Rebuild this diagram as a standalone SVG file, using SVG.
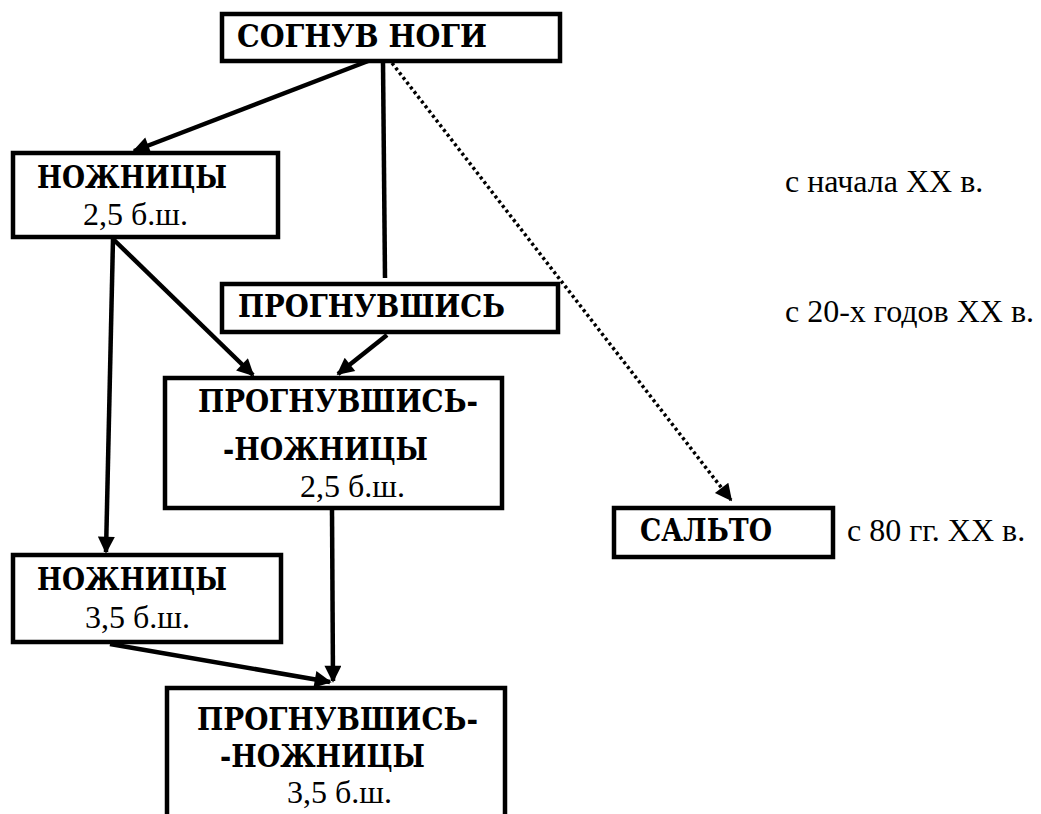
<svg xmlns="http://www.w3.org/2000/svg" width="1041" height="814" viewBox="0 0 1041 814">
<style>
.box{fill:#fff;stroke:#000;stroke-width:4.5}
.b{font-family:'DejaVu Serif','Liberation Serif',serif;font-weight:bold;font-size:31px;fill:#000}
.r{font-family:'Liberation Serif','Times New Roman',serif;font-size:32px;fill:#000}
.ln{stroke:#000;stroke-width:4.5;fill:none}
.dot{stroke:#000;stroke-width:3.5;fill:none;stroke-dasharray:3 3}
</style>
<defs>
<marker id="ah" viewBox="0 0 10 10" refX="9" refY="5" markerWidth="19" markerHeight="17" markerUnits="userSpaceOnUse" orient="auto">
<path d="M0,0 L10,5 L0,10 z" fill="#000"/>
</marker>
</defs>
<rect width="1041" height="814" fill="#fff"/>
<g id="connectors">
<line class="ln" x1="376" y1="58" x2="134" y2="151" marker-end="url(#ah)"/>
<line class="ln" x1="383" y1="62" x2="385" y2="278"/>
<line class="dot" x1="392" y1="63" x2="731" y2="500" marker-end="url(#ah)"/>
<line class="ln" x1="113" y1="239" x2="253" y2="375" marker-end="url(#ah)"/>
<line class="ln" x1="387" y1="335" x2="338" y2="374" marker-end="url(#ah)"/>
<line class="ln" x1="113" y1="239" x2="106" y2="552" marker-end="url(#ah)"/>
<line class="ln" x1="332" y1="510" x2="333" y2="681" marker-end="url(#ah)"/>
<line class="ln" x1="110" y1="644" x2="330" y2="682" marker-end="url(#ah)"/>
</g>
<g id="n-sognuv">
<rect class="box" x="222" y="14" width="338" height="47"/>
<text class="b" x="237" y="47" textLength="250" lengthAdjust="spacingAndGlyphs">СОГНУВ  НОГИ</text>
</g>
<g id="n-nozh1">
<rect class="box" x="13" y="153" width="265" height="84"/>
<text class="b" x="37" y="188" textLength="190" lengthAdjust="spacingAndGlyphs">НОЖНИЦЫ</text>
<text class="r" x="83" y="225">2,5 б.ш.</text>
</g>
<g id="n-progn">
<rect class="box" x="222" y="284" width="336" height="48"/>
<text class="b" x="238" y="317" textLength="267" lengthAdjust="spacingAndGlyphs">ПРОГНУВШИСЬ</text>
</g>
<g id="n-pn1">
<rect class="box" x="165" y="378" width="337" height="130"/>
<text class="b" x="198" y="412" textLength="280" lengthAdjust="spacingAndGlyphs">ПРОГНУВШИСЬ-</text>
<text class="b" x="223" y="460" textLength="205" lengthAdjust="spacingAndGlyphs">-НОЖНИЦЫ</text>
<text class="r" x="300" y="497">2,5 б.ш.</text>
</g>
<g id="n-salto">
<rect class="box" x="614" y="508" width="219" height="49"/>
<text class="b" x="640" y="541" textLength="132" lengthAdjust="spacingAndGlyphs">САЛЬТО</text>
</g>
<g id="n-nozh2">
<rect class="box" x="13" y="555" width="268" height="87"/>
<text class="b" x="37" y="590" textLength="190" lengthAdjust="spacingAndGlyphs">НОЖНИЦЫ</text>
<text class="r" x="85" y="628">3,5 б.ш.</text>
</g>
<g id="n-pn2">
<path class="box" d="M167,820 V688 H505 V820"/>
<text class="b" x="197" y="730" textLength="281" lengthAdjust="spacingAndGlyphs">ПРОГНУВШИСЬ-</text>
<text class="b" x="220" y="767" textLength="205" lengthAdjust="spacingAndGlyphs">-НОЖНИЦЫ</text>
<text class="r" x="287" y="803">3,5 б.ш.</text>
</g>
<g id="labels">
<text class="r" x="785" y="192">с начала ХХ в.</text>
<text class="r" x="785" y="322">с 20-х годов ХХ в.</text>
<text class="r" x="847" y="541">с 80 гг. ХХ в.</text>
</g>
</svg>
